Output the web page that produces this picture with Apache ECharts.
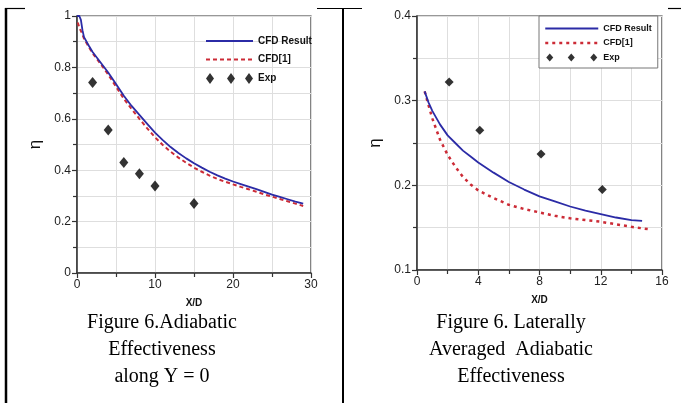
<!DOCTYPE html>
<html>
<head>
<meta charset="utf-8">
<script src="https://cdn.jsdelivr.net/npm/echarts@6/dist/echarts.min.js"></script>
<style>
  html, body { margin: 0; padding: 0; background: #fff; }
  #chart { width: 681px; height: 403px; }
</style>
</head>
<body>
<div id="chart"></div>
<script>
// Centreline effectiveness (Y = 0) versus X/D
const centreCfd = [[0, 1.0], [0.3, 1.0], [0.5, 0.985], [0.7, 0.945], [0.9, 0.918], [1.5, 0.885], [2, 0.86], [3, 0.82], [4, 0.78], [5, 0.735], [6, 0.69], [7, 0.65], [8, 0.615], [9, 0.58], [10, 0.546], [11, 0.517], [12, 0.49], [13, 0.467], [14, 0.446], [15, 0.427], [16, 0.41], [17, 0.394], [18, 0.38], [19, 0.367], [20, 0.356], [21, 0.346], [22, 0.336], [23, 0.326], [24, 0.316], [25, 0.305], [26, 0.296], [27, 0.287], [28, 0.278], [29, 0.27]];
const centreRef = [[0.1, 0.975], [0.3, 0.955], [0.6, 0.935], [0.9, 0.912], [1.5, 0.88], [2, 0.855], [3, 0.815], [4, 0.772], [5, 0.725], [6, 0.678], [7, 0.638], [8, 0.6], [9, 0.563], [10, 0.528], [11, 0.498], [12, 0.472], [13, 0.449], [14, 0.429], [15, 0.41], [16, 0.394], [17, 0.379], [18, 0.366], [19, 0.355], [20, 0.345], [21, 0.335], [22, 0.326], [23, 0.316], [24, 0.306], [25, 0.297], [26, 0.288], [27, 0.279], [28, 0.27], [29, 0.261]];
const centreExp = [[2, 0.741], [4, 0.556], [6, 0.43], [8, 0.386], [10, 0.339], [15, 0.27]];

// Laterally averaged effectiveness versus X/D
const lateralCfd = [[0.5, 0.311], [0.75, 0.298], [1, 0.288], [1.5, 0.272], [2, 0.259], [2.5, 0.25], [3, 0.241], [3.5, 0.234], [4, 0.227], [5, 0.215], [6, 0.204], [7, 0.195], [8, 0.187], [9, 0.181], [10, 0.175], [11, 0.17], [12, 0.166], [13, 0.162], [14, 0.159], [14.7, 0.158]];
const lateralRef = [[0.5, 0.311], [0.7, 0.298], [1, 0.279], [1.5, 0.254], [2, 0.236], [2.5, 0.222], [3, 0.21], [3.5, 0.201], [4, 0.194], [5, 0.185], [6, 0.177], [7, 0.172], [8, 0.168], [9, 0.164], [10, 0.161], [11, 0.159], [12, 0.157], [13, 0.154], [14, 0.151], [15.2, 0.148]];
const lateralExp = [[2.1, 0.322], [4.1, 0.265], [8.1, 0.237], [12.1, 0.195]];

const seriesNames = ['CFD Result', 'CFD[1]', 'Exp'];
const captionLeft = ['Figure 6.Adiabatic', 'Effectiveness', 'along Y = 0'];
const captionRight = ['Figure 6. Laterally', 'Averaged  Adiabatic', 'Effectiveness'];

const BLUE = '#2b2ba6';
const RED = '#cc2b36';
const AXIS = '#333';
const GRIDLINE = '#dedede';
const SANS = '"Liberation Sans", Arial, sans-serif';
const SERIF = '"Liberation Serif", "Times New Roman", serif';

function xAxis(gridIndex, max, interval) {
  return {
    type: 'value', gridIndex, min: 0, max, interval,
    name: 'X/D', nameLocation: 'middle', nameGap: 25,
    nameTextStyle: { fontFamily: SANS, fontSize: 10, fontWeight: 'bold', color: '#111' },
    axisLine: { lineStyle: { color: AXIS, width: 1.5 } },
    axisTick: { length: 5, lineStyle: { color: AXIS, width: 1.2 } },
    minorTick: { show: true, splitNumber: 2, length: 4, lineStyle: { color: AXIS, width: 1.2 } },
    splitLine: { show: true, lineStyle: { color: GRIDLINE, width: 1 } },
    minorSplitLine: { show: true, lineStyle: { color: GRIDLINE, width: 1 } },
    axisLabel: { fontFamily: SANS, fontSize: 12, color: '#222', margin: 6 }
  };
}
function yAxis(gridIndex, min, max, interval) {
  return {
    type: 'value', gridIndex, min, max, interval,
    name: 'η', nameLocation: 'middle', nameGap: 33, nameRotate: 90,
    nameTextStyle: { fontFamily: SANS, fontSize: 17, color: '#111' },
    axisLine: { lineStyle: { color: AXIS, width: 1.5 } },
    axisTick: { length: 5, lineStyle: { color: AXIS, width: 1.2 } },
    minorTick: { show: true, splitNumber: 2, length: 4, lineStyle: { color: AXIS, width: 1.2 } },
    splitLine: { show: true, lineStyle: { color: GRIDLINE, width: 1 } },
    minorSplitLine: { show: true, lineStyle: { color: GRIDLINE, width: 1 } },
    axisLabel: { fontFamily: SANS, fontSize: 12, color: '#222', margin: 6 }
  };
}

function captionText(lines, cx) {
  return lines.map((t, i) => ({
    type: 'text', x: cx, y: 313 + i * 27,
    style: { text: t, font: '20px ' + SERIF, fill: '#000', align: 'center', textAlign: 'center' }
  }));
}

// legend entries for the two line series: just the stroke, no marker
const lineEntry = (name, style) => ({ name, itemStyle: { opacity: 0 }, lineStyle: style });

const chart = echarts.init(document.getElementById('chart'), null, { renderer: 'canvas' });
chart.setOption({
  backgroundColor: '#fff',
  animation: false,
  grid: [
    { left: 77, top: 16, width: 234, height: 257, show: true, borderColor: AXIS, borderWidth: 1.2, backgroundColor: 'transparent' },
    { left: 417, top: 16, width: 245, height: 254, show: true, borderColor: AXIS, borderWidth: 1.2, backgroundColor: 'transparent' }
  ],
  xAxis: [xAxis(0, 30, 10), xAxis(1, 16, 4)],
  yAxis: [yAxis(0, 0, 1, 0.2), yAxis(1, 0.1, 0.4, 0.1)],
  legend: [
    {
      left: 200, top: 31, orient: 'vertical', itemWidth: 47, itemHeight: 11, itemGap: 8.5,
      textStyle: { fontFamily: SANS, fontSize: 10, fontWeight: 'bold', color: '#111' },
      data: [
        lineEntry(seriesNames[0], { color: BLUE, width: 1.8 }),
        lineEntry(seriesNames[1], { color: RED, width: 2, type: [4, 3] }),
        { name: seriesNames[2], icon: 'path://M4 0L8 5.5L4 11L0 5.5ZM25 0L29 5.5L25 11L21 5.5ZM43 0L47 5.5L43 11L39 5.5Z' }
      ],
      selectedMode: false
    },
    {
      left: 539, top: 16, orient: 'vertical', itemWidth: 53, itemHeight: 8, itemGap: 5.5,
      padding: [8, 6, 6, 5], borderColor: '#777', borderWidth: 1, backgroundColor: '#fff',
      textStyle: { fontFamily: SANS, fontSize: 9, fontWeight: 'bold', color: '#111' },
      data: [
        lineEntry(seriesNames[0], { color: BLUE, width: 1.8 }),
        lineEntry(seriesNames[1], { color: RED, width: 2.5, type: [3, 4] }),
        { name: seriesNames[2], icon: 'path://M3.5 0L7 4L3.5 8L0 4ZM25 0L28.5 4L25 8L21.5 4ZM47.5 0L51 4L47.5 8L44 4Z' }
      ],
      selectedMode: false
    }
  ],
  series: [
    { name: seriesNames[0], type: 'line', xAxisIndex: 0, yAxisIndex: 0, data: centreCfd, symbol: 'none', z: 3,
      lineStyle: { color: BLUE, width: 1.8, join: 'round' }, itemStyle: { color: BLUE } },
    { name: seriesNames[1], type: 'line', xAxisIndex: 0, yAxisIndex: 0, data: centreRef, symbol: 'none', z: 2,
      lineStyle: { color: RED, width: 2, type: [4, 3] }, itemStyle: { color: RED } },
    { name: seriesNames[2], type: 'scatter', xAxisIndex: 0, yAxisIndex: 0, data: centreExp, symbol: 'diamond', symbolSize: [9, 11], z: 4,
      itemStyle: { color: '#000' } },
    { name: seriesNames[0], type: 'line', xAxisIndex: 1, yAxisIndex: 1, data: lateralCfd, symbol: 'none', z: 3,
      lineStyle: { color: BLUE, width: 1.8, join: 'round' }, itemStyle: { color: BLUE } },
    { name: seriesNames[1], type: 'line', xAxisIndex: 1, yAxisIndex: 1, data: lateralRef, symbol: 'none', z: 2,
      lineStyle: { color: RED, width: 2.5, type: [3, 4] }, itemStyle: { color: RED } },
    { name: seriesNames[2], type: 'scatter', xAxisIndex: 1, yAxisIndex: 1, data: lateralExp, symbol: 'diamond', symbolSize: [9, 9], z: 4,
      itemStyle: { color: '#000' } }
  ],
  graphic: [
    // table rules around the two figure cells
    { type: 'line', silent: true, shape: { x1: 6, y1: 8, x2: 6, y2: 403 }, style: { stroke: '#000', lineWidth: 2.5 } },
    { type: 'line', silent: true, shape: { x1: 343, y1: 8, x2: 343, y2: 403 }, style: { stroke: '#000', lineWidth: 2 } },
    { type: 'line', silent: true, shape: { x1: 5, y1: 8.5, x2: 25, y2: 8.5 }, style: { stroke: '#000', lineWidth: 1.2 } },
    { type: 'line', silent: true, shape: { x1: 317, y1: 8.5, x2: 362, y2: 8.5 }, style: { stroke: '#000', lineWidth: 1.2 } },
    { type: 'line', silent: true, shape: { x1: 668, y1: 8.5, x2: 681, y2: 8.5 }, style: { stroke: '#000', lineWidth: 1.2 } }
  ].concat(captionText(captionLeft, 162), captionText(captionRight, 511))
});
</script>
</body>
</html>
